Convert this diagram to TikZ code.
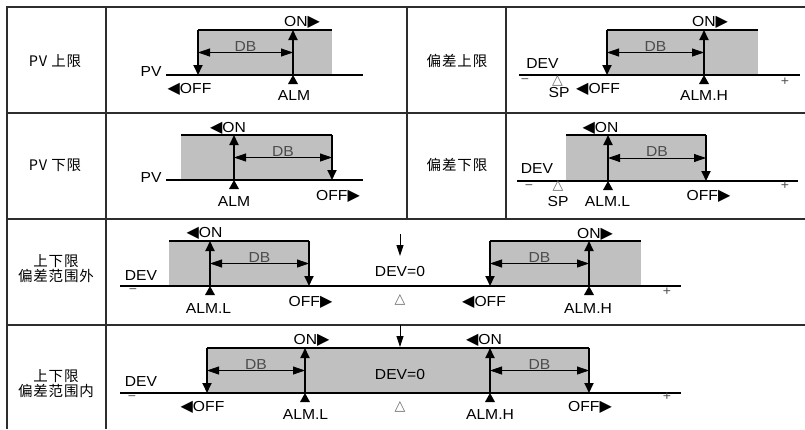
\documentclass[tikz,border=0pt]{standalone}
\usepackage{fontspec}
\setmainfont{Liberation Sans}[FakeStretch=1.08]
\newfontfamily\cjkfont{Noto Sans CJK SC}[LetterSpace=6]
\newfontfamily\symfont{DejaVu Sans}
\usetikzlibrary{arrows.meta, positioning, calc}
\definecolor{bandgray}{RGB}{192,192,192}
\definecolor{gridgray}{RGB}{45,45,45}
\newcommand{\rtri}{{\symfont\fontsize{16}{16}\selectfont ▶}}
\newcommand{\ltri}{{\symfont\fontsize{16}{16}\selectfont ◀}}

\begin{document}
\begin{tikzpicture}[x=1pt, y=-1pt,
    every node/.style={font=\fontsize{14.5}{16}\selectfont, inner sep=0pt},
    grid/.style={draw=gridgray, line width=1.2pt},
    axisline/.style={line width=1.8pt},
    level/.style={line width=1.8pt},
    switch/.style={line width=1.8pt, -{Triangle[length=10pt, width=9pt]}},
    dbline/.style={line width=0.8pt, {Triangle[length=12pt, width=8pt]}-{Triangle[length=12pt, width=8pt]}},
    zero/.style={line width=0.8pt, -{Triangle[length=11pt, width=7pt]}},
    band/.style={fill=bandgray},
    dbtext/.style={text=black!70},
    rowname/.style={font=\cjkfont\fontsize{14.5}{15.5}\selectfont, align=center},
    sp/.style={text=black!60, font=\symfont\fontsize{14}{14}\selectfont},
    sign/.style={text=black!70, font=\fontsize{13}{13}\selectfont}]
\useasboundingbox (0,0) rectangle (805,429);

% table
\draw[grid] (7,429) -- (7,7) -- (805,7);
\foreach \y in {113,219,325}
    \draw[grid] (7,\y) -- (805,\y);
\draw[grid] (106,7) -- (106,429);
\foreach \x in {407,506}
    \draw[grid] (\x,7) -- (\x,219);

% PV upper
\node[rowname] (uaname) at (55,61) {PV 上限};
\coordinate (uaL) at (166,75);   \coordinate (uaR) at (363,75);
\coordinate (uaoffT) at (198,30); \coordinate (uaoffB) at (198,75);
\coordinate (uaonT) at (293,30);  \coordinate (uaonB) at (293,75);
\coordinate (uaE) at (332,30);
\fill[band] (uaoffT) rectangle (uaE |- uaL);
\draw[axisline] (uaL) -- (uaR);
\draw[level] (uaoffT) -- (uaE);
\draw[switch] (uaoffT) -- (uaoffB);
\draw[switch] (uaonB) -- (uaonT);
\draw[dbline] ($(uaoffT)!.5!(uaoffB)$) -- ($(uaonT)!.5!(uaonB)$)
    node[midway, above=1pt, dbtext] (uadb) {DB};
\fill (uaonB) -- ++(-5,9) -- ++(10,0) -- cycle;
\node (uapv) at (151,72) {PV};
\node (uaon) at (302,22.5) {ON\rtri};
\node (uaoff) at (189.5,89.5) {\ltri OFF};
\node (uaalm) at (294,96) {ALM};

% PV lower
\node[rowname] (laname) at (55,165) {PV 下限};
\coordinate (laL) at (166,180);   \coordinate (laR) at (363,180);
\coordinate (laS) at (181,135);
\coordinate (laonT) at (234,135);  \coordinate (laonB) at (234,180);
\coordinate (laoffT) at (332,135); \coordinate (laoffB) at (332,180);
\fill[band] (laS) rectangle (laoffB);
\draw[axisline] (laL) -- (laR);
\draw[level] (laS) -- (laoffT);
\draw[switch] (laonB) -- (laonT);
\draw[switch] (laoffT) -- (laoffB);
\draw[dbline] ($(laonT)!.5!(laonB)$) -- ($(laoffT)!.5!(laoffB)$)
    node[midway, above=1pt, dbtext] (ladb) {DB};
\fill (laonB) -- ++(-5,9) -- ++(10,0) -- cycle;
\node (lapv) at (151,178) {PV};
\node (laon) at (228,128) {\ltri ON};
\node (laoff) at (338,196) {OFF\rtri};
\node (laalm) at (234,202) {ALM};

% deviation upper
\node[rowname] (udname) at (457,61) {偏差上限};
\coordinate (udL) at (519,75);    \coordinate (udR) at (800,75);
\coordinate (udoffT) at (607,30); \coordinate (udoffB) at (607,75);
\coordinate (udonT) at (704,30);  \coordinate (udonB) at (704,75);
\coordinate (udE) at (758,30);
\fill[band] (udoffT) rectangle (udE |- udL);
\draw[axisline] (udL) -- (udR);
\draw[level] (udoffT) -- (udE);
\draw[switch] (udoffT) -- (udoffB);
\draw[switch] (udonB) -- (udonT);
\draw[dbline] ($(udoffT)!.5!(udoffB)$) -- ($(udonT)!.5!(udonB)$)
    node[midway, above=1pt, dbtext] (uddb) {DB};
\fill (udonB) -- ++(-5,9) -- ++(10,0) -- cycle;
\node (uddev) at (542.5,64) {DEV};
\node[sign] (udminus) at (525,81) {−};
\node[sign] (udplus) at (785,81.5) {+};
\node[sp] (udsp) at (557.5,80.5) {△};
\node (udsptext) at (559,93) {SP};
\node (udoff) at (598,89.5) {\ltri OFF};
\node (udon) at (710,22.5) {ON\rtri};
\node (udalm) at (704,96) {ALM.H};

% deviation lower
\node[rowname] (ldname) at (457,165) {偏差下限};
\coordinate (ldL) at (517,181);    \coordinate (ldR) at (798,181);
\coordinate (ldS) at (566,135);
\coordinate (ldonT) at (608,135);  \coordinate (ldonB) at (608,181);
\coordinate (ldoffT) at (706,135); \coordinate (ldoffB) at (706,181);
\fill[band] (ldS) rectangle (ldoffB);
\draw[axisline] (ldL) -- (ldR);
\draw[level] (ldS) -- (ldoffT);
\draw[switch] (ldonB) -- (ldonT);
\draw[switch] (ldoffT) -- (ldoffB);
\draw[dbline] ($(ldonT)!.5!(ldonB)$) -- ($(ldoffT)!.5!(ldoffB)$)
    node[midway, above=1pt, dbtext] (lddb) {DB};
\fill (ldonB) -- ++(-5,9) -- ++(10,0) -- cycle;
\node (lddev) at (537,169) {DEV};
\node[sign] (ldminus) at (529,187) {−};
\node[sign] (ldplus) at (785,186) {+};
\node[sp] (ldsp) at (558,186) {△};
\node (ldsptext) at (558,202) {SP};
\node (ldalm) at (607.5,202) {ALM.L};
\node (ldon) at (600.5,128) {\ltri ON};
\node (ldoff) at (708.5,196) {OFF\rtri};

% outside band
\node[rowname] (outname) at (56,268.5) {上下限\\偏差范围外};
\coordinate (outL) at (120,286);    \coordinate (outR) at (681,286);
\coordinate (outS) at (169,241);
\coordinate (outlonT) at (210,241);  \coordinate (outlonB) at (210,286);
\coordinate (outloffT) at (309,241); \coordinate (outloffB) at (309,286);
\coordinate (outhoffT) at (490,241); \coordinate (outhoffB) at (490,286);
\coordinate (outhonT) at (589,241);  \coordinate (outhonB) at (589,286);
\coordinate (outE) at (641,241);
\fill[band] (outS) rectangle (outloffB);
\fill[band] (outhoffT) rectangle (outE |- outL);
\draw[axisline] (outL) -- (outR);
\draw[level] (outS) -- (outloffT);
\draw[level] (outhoffT) -- (outE);
\draw[switch] (outlonB) -- (outlonT);
\draw[switch] (outloffT) -- (outloffB);
\draw[switch] (outhoffT) -- (outhoffB);
\draw[switch] (outhonB) -- (outhonT);
\draw[dbline] ($(outlonT)!.5!(outlonB)$) -- ($(outloffT)!.5!(outloffB)$)
    node[midway, above=1pt, dbtext] (outldb) {DB};
\draw[dbline] ($(outhoffT)!.5!(outhoffB)$) -- ($(outhonT)!.5!(outhonB)$)
    node[midway, above=1pt, dbtext] (outhdb) {DB};
\foreach \p in {outlonB, outhonB}
    \fill (\p) -- ++(-5,9) -- ++(10,0) -- cycle;
\coordinate (outzT) at (400,234); \coordinate (outzB) at (400,256);
\draw[zero] (outzT) -- (outzB);
\node (outzero) at (400,272) {DEV=0};
\node[sp] (outsp) at (400,300) {△};
\node (outdev) at (141,276) {DEV};
\node[sign] (outminus) at (133,291) {−};
\node[sign] (outplus) at (667,292) {+};
\node (outlon) at (204.5,233) {\ltri ON};
\node (outloff) at (310.5,302) {OFF\rtri};
\node (outlalm) at (208.5,309) {ALM.L};
\node (outhon) at (595,234) {ON\rtri};
\node (outhoff) at (484,302) {\ltri OFF};
\node (outhalm) at (588,309) {ALM.H};

% inside band
\node[rowname] (inname) at (56,383.5) {上下限\\偏差范围内};
\coordinate (inL) at (120,393);     \coordinate (inR) at (681,393);
\coordinate (inloffT) at (207,348); \coordinate (inloffB) at (207,393);
\coordinate (inlonT) at (305,348);  \coordinate (inlonB) at (305,393);
\coordinate (inhonT) at (490,348);  \coordinate (inhonB) at (490,393);
\coordinate (inhoffT) at (589,348); \coordinate (inhoffB) at (589,393);
\fill[band] (inloffT) rectangle (inhoffB);
\draw[axisline] (inL) -- (inR);
\draw[level] (inloffT) -- (inhoffT);
\draw[switch] (inloffT) -- (inloffB);
\draw[switch] (inlonB) -- (inlonT);
\draw[switch] (inhonB) -- (inhonT);
\draw[switch] (inhoffT) -- (inhoffB);
\draw[dbline] ($(inloffT)!.5!(inloffB)$) -- ($(inlonT)!.5!(inlonB)$)
    node[midway, above=1pt, dbtext] (inldb) {DB};
\draw[dbline] ($(inhonT)!.5!(inhonB)$) -- ($(inhoffT)!.5!(inhoffB)$)
    node[midway, above=1pt, dbtext] (inhdb) {DB};
\foreach \p in {inlonB, inhonB}
    \fill (\p) -- ++(-5,9) -- ++(10,0) -- cycle;
\coordinate (inzT) at (400,325); \coordinate (inzB) at (400,347);
\draw[zero] (inzT) -- (inzB);
\node (inzero) at (400,374) {DEV=0};
\node[sp] (insp) at (400,406.5) {△};
\node (indev) at (141,382) {DEV};
\node[sign] (inminus) at (132,398) {−};
\node[sign] (inplus) at (667,397) {+};
\node (inlon) at (311.5,340) {ON\rtri};
\node (inloff) at (202.5,407) {\ltri OFF};
\node (inlalm) at (305.5,415) {ALM.L};
\node (inhon) at (484,340) {\ltri ON};
\node (inhoff) at (590,407) {OFF\rtri};
\node (inhalm) at (490,415) {ALM.H};
\end{tikzpicture}
\end{document}
